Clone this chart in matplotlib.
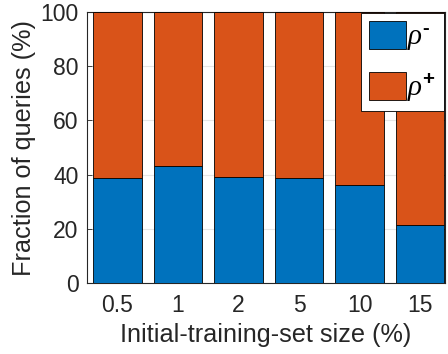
import matplotlib.pyplot as plt
import numpy as np

plt.rcParams['font.family'] = ['Liberation Sans', 'DejaVu Sans']
plt.rcParams['mathtext.fontset'] = 'custom'
plt.rcParams['mathtext.rm'] = 'Liberation Sans:bold'
plt.rcParams['mathtext.it'] = 'Liberation Serif:italic'
plt.rcParams['mathtext.bf'] = 'Liberation Sans:bold'

# data
sizes = ['0.5', '1', '2', '5', '10', '15']
rho_minus = [38.6, 43.0, 39.0, 38.6, 36.0, 21.3]
rho_plus = [100 - v for v in rho_minus]

txt = '#262626'
blue = '#0072BD'
orange = '#D95319'

fig = plt.figure(figsize=(4.48, 3.54), dpi=100)
ax = fig.add_axes([87/448, 1 - 283/354, (445 - 87)/448, (283 - 12)/354])

x = np.arange(1, len(sizes) + 1)
ax.bar(x, rho_minus, 0.8, color=blue, edgecolor='black', linewidth=0.6,
       label=r'$\rho^{\text{-}}$', zorder=3)
ax.bar(x, rho_plus, 0.8, bottom=rho_minus, color=orange, edgecolor='black',
       linewidth=0.6, label=r'$\rho^{\text{+}}$', zorder=3)

ax.set_xlim(0.5, 6.41)
ax.set_ylim(0, 100)
ax.set_xticks(x)
ax.set_xticklabels(sizes)
ax.set_yticks(range(0, 101, 20))
ax.yaxis.grid(True, color='#e6e6e6', linewidth=0.8, zorder=0)
ax.set_axisbelow(True)
ax.tick_params(direction='in', top=True, right=True, labelsize=16.5,
               colors=txt, length=3.5, width=0.6)
ax.tick_params(axis='x', pad=8)
ax.tick_params(axis='y', pad=6)
for s in ax.spines.values():
    s.set_color(txt)
    s.set_linewidth(0.8)

ax.set_xlabel('Initial-training-set size (%)', fontsize=18.2, color=txt, labelpad=4)
ax.set_ylabel('Fraction of queries (%)', fontsize=18.2, color=txt, labelpad=3)

leg = ax.legend(loc='upper right', fontsize=21, fancybox=False, framealpha=1,
                edgecolor='black', borderaxespad=0.05, handlelength=1.27,
                handleheight=1.1, handletextpad=0.05, borderpad=0.25,
                labelspacing=0.65)
leg.get_frame().set_linewidth(0.6)

fig.savefig('out.png', dpi=100)
